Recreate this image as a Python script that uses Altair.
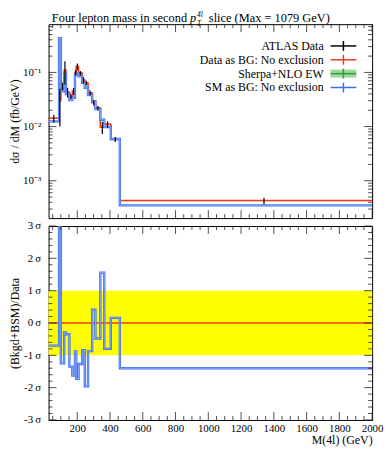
import altair as alt
import pandas as pd

# ---------------- data ----------------
edges = [25, 89, 100, 120, 131, 152, 170, 186, 194, 208, 230, 246, 266, 291, 311, 341, 365, 405, 460, 2000]
data_vals = [0.0142, 0.030, 0.056, 0.110, 0.043, 0.036, 0.045, 0.100, 0.128, 0.097, 0.072,
             0.064, 0.042, 0.0277, 0.022, 0.0097, 0.011, 0.0058, 0.00043]
data_errs = [0.0024, 0.020, 0.0088, 0.050, 0.0086, 0.0037, 0.0067, 0.011, 0.018, 0.0094, 0.0095,
             0.0061, 0.0046, 0.0032, 0.0021, 0.0024, 0.0015, 0.0006, 0.000057]
data_x = [57, 94, 110, 125, 141, 161, 178, 190, 201, 219, 238, 256, 278, 301, 326, 353, 385, 432, 1340]
sm_vals = [0.0125, 0.43, 0.045, 0.095, 0.040, 0.031, 0.034, 0.090, 0.097, 0.085, 0.064,
           0.052, 0.038, 0.029, 0.021, 0.0134, 0.0098, 0.0059, 0.00035]
ratio_vals = [-0.70, 6.0, -1.25, -0.29, -0.35, -1.35, -1.63, -0.88, -1.73, -1.27, -0.84,
              -1.96, -0.87, 0.41, -0.48, 1.56, -0.80, 0.16, -1.40]

x_major = list(range(200, 2001, 200))
x_minor = [v for v in range(50, 2000, 50) if v % 200 != 0]
ytop_major = [1e-1, 1e-2, 1e-3]
ytop_minor = [k * 10.0 ** e for e in (-4, -3, -2, -1) for k in range(2, 10)
              if 2.04e-4 <= k * 10.0 ** e <= 0.778]
ybot_major = [-3, -2, -1, 0, 1, 2, 3]
ybot_minor = [round(i * 0.2, 1) for i in range(-14, 15) if i % 5 != 0]

legend_labels = ["ATLAS Data", "Data as BG: No exclusion", "Sherpa+NLO EW", "SM as BG: No exclusion"]

# ---------------- styling ----------------
FONT = "Liberation Serif"
W, H1, H2 = 327, 196, 196
RED = "#ee3a1c"
BLUE = "#3d6ef0"
BLUE_LIGHT = "#a8bff7"
GREEN = "#2f9e2f"
GREEN_BAND = "#9fd89f"

xs = alt.Scale(domain=[25, 2000], nice=False, zero=False)
ys_top = alt.Scale(type="log", domain=[2.04e-4, 0.778], nice=False)
ys_bot = alt.Scale(domain=[-3, 3], nice=False, zero=False)

axis_top = alt.Axis(values=ytop_major, ticks=False, domain=False, grid=False,
                    labelExpr="datum.value > 0.05 ? '10⁻¹' : (datum.value > 0.005 ? '10⁻²' : '10⁻³')",
                    labelPadding=8, labelFontSize=11, minExtent=25, maxExtent=25,
                    title="dσ / dM (fb/GeV)", titlePadding=2, titleFontSize=12)
axis_bot = alt.Axis(values=ybot_major, ticks=False, domain=False, grid=False,
                    labelExpr="datum.value + '\u2009σ'", labelPadding=8, labelFontSize=11,
                    minExtent=25, maxExtent=25,
                    title="(Bkgd+BSM)/Data", titlePadding=2, titleFontSize=12)
axis_x = alt.Axis(values=x_major, ticks=False, domain=False, grid=False, labelPadding=3,
                  labelFontSize=11, format="d", title="M(4l) (GeV)", titleAnchor="end",
                  titlePadding=1, titleFontSize=12, labelFlush=False)


def YT(f):
    return alt.Y(f, scale=ys_top, axis=axis_top)


def YB(f):
    return alt.Y(f, scale=ys_bot, axis=axis_bot)


bins = pd.DataFrame({"lo": edges[:-1], "hi": edges[1:], "data": data_vals, "err": data_errs,
                     "xd": data_x, "sm": sm_vals, "ratio": ratio_vals})
bins["dlo"] = bins["data"] - bins["err"]
bins["dhi"] = bins["data"] + bins["err"]
steps = pd.DataFrame({"x": edges, "data": data_vals + [data_vals[-1]],
                      "sm": sm_vals + [sm_vals[-1]], "ratio": ratio_vals + [ratio_vals[-1]]})


def tick_layers(xaxis, yenc_fn, ymaj, ymin, H):
    layers = []
    for vals, L in ((x_major, 8), (x_minor, 4)):
        d = pd.DataFrame({"v": vals})
        X = alt.X("v:Q", scale=xs, axis=xaxis)
        layers.append(alt.Chart(d).mark_rule(color="#222", strokeWidth=0.8).encode(
            x=X, y=alt.value(0), y2=alt.value(L)))
        layers.append(alt.Chart(d).mark_rule(color="#222", strokeWidth=0.8).encode(
            x=X, y=alt.value(H), y2=alt.value(H - L)))
    for vals, L in ((ymaj, 8), (ymin, 4)):
        d = pd.DataFrame({"v": vals})
        layers.append(alt.Chart(d).mark_rule(color="#222", strokeWidth=0.8).encode(
            y=yenc_fn("v:Q"), x=alt.value(0), x2=alt.value(L)))
        layers.append(alt.Chart(d).mark_rule(color="#222", strokeWidth=0.8).encode(
            y=yenc_fn("v:Q"), x=alt.value(W), x2=alt.value(W - L)))
    return layers


one = pd.DataFrame({"a": [0]})

# ---------------- top panel ----------------
XN = lambda f: alt.X(f, scale=xs, axis=None)
hbar = alt.Chart(bins).mark_rule(color="black", strokeWidth=1).encode(
    x=XN("lo:Q"), x2="hi:Q", y=YT("data:Q"))
red_step = alt.Chart(steps).mark_line(color=RED, strokeWidth=1.6, interpolate="step-after").encode(
    x=XN("x:Q"), y=YT("data:Q"))
blue_step = alt.Chart(steps).mark_line(color=BLUE, strokeWidth=2.4, interpolate="step-after").encode(
    x=XN("x:Q"), y=YT("sm:Q"))
blue_core = alt.Chart(steps).mark_line(color=BLUE_LIGHT, strokeWidth=0.7, interpolate="step-after").encode(
    x=XN("x:Q"), y=YT("sm:Q"))
vbar = alt.Chart(bins).mark_rule(color="black", strokeWidth=1.2).encode(
    x=XN("xd:Q"), y=YT("dlo:Q"), y2="dhi:Q")

legend_layers = []
rows_y = [22, 36, 50, 64]
leg_colors = ["black", RED, GREEN, BLUE]
for lab, yy, col in zip(legend_labels, rows_y, leg_colors):
    legend_layers.append(alt.Chart(one).mark_text(align="right", baseline="middle", font=FONT,
                                                  fontSize=12, color="black").encode(
        x=alt.value(278), y=alt.value(yy), text=alt.value(lab)))
    if col == GREEN:
        legend_layers.append(alt.Chart(one).mark_rect(color=GREEN_BAND).encode(
            x=alt.value(285), x2=alt.value(311), y=alt.value(yy - 4), y2=alt.value(yy + 4)))
    legend_layers.append(alt.Chart(one).mark_rule(color=col, strokeWidth=1.5).encode(
        x=alt.value(285), x2=alt.value(311), y=alt.value(yy)))
    legend_layers.append(alt.Chart(one).mark_rule(color=col, strokeWidth=1.5).encode(
        x=alt.value(298), y=alt.value(yy - 5), y2=alt.value(yy + 5)))

title_layers = [
    alt.Chart(one).mark_text(align="right", baseline="alphabetic", font=FONT, fontSize=12.5).encode(
        x=alt.value(140), y=alt.value(-2.5), text=alt.value("Four lepton mass in second")),
    alt.Chart(one).mark_text(align="left", baseline="alphabetic", font=FONT, fontSize=12.5,
                             fontStyle="italic").encode(
        x=alt.value(143), y=alt.value(-2.5), text=alt.value("p")),
    alt.Chart(one).mark_text(align="left", baseline="alphabetic", font=FONT, fontSize=7.5,
                             fontStyle="italic").encode(
        x=alt.value(150), y=alt.value(-7.5), text=alt.value("4l")),
    alt.Chart(one).mark_text(align="left", baseline="alphabetic", font=FONT, fontSize=7.5,
                             fontStyle="italic").encode(
        x=alt.value(150), y=alt.value(1.5), text=alt.value("T")),
    alt.Chart(one).mark_text(align="left", baseline="alphabetic", font=FONT, fontSize=12.5).encode(
        x=alt.value(162), y=alt.value(-2.5), text=alt.value("slice (Max = 1079 GeV)")),
]

top = alt.layer(
    hbar, red_step, blue_step, blue_core, vbar,
    *tick_layers(None, YT, ytop_major, ytop_minor, H1),
    *legend_layers, *title_layers
).properties(width=W, height=H1)

# ---------------- bottom panel ----------------
XB = lambda f: alt.X(f, scale=xs, axis=axis_x)
band = alt.Chart(pd.DataFrame({"lo": [-1], "hi": [1]})).mark_rect(color="#ffff00").encode(
    x=alt.value(0), x2=alt.value(W), y=YB("lo:Q"), y2="hi:Q")
zero = alt.Chart(pd.DataFrame({"z": [0]})).mark_rule(color=RED, strokeWidth=1.3).encode(
    y=YB("z:Q"), x=alt.value(0), x2=alt.value(W))
ratio_step = alt.Chart(steps).mark_line(color=BLUE, strokeWidth=2.4, interpolate="step-after",
                                        clip=True).encode(
    x=XB("x:Q"), y=YB("ratio:Q"))
ratio_core = alt.Chart(steps).mark_line(color=BLUE_LIGHT, strokeWidth=0.7, interpolate="step-after",
                                        clip=True).encode(
    x=XB("x:Q"), y=YB("ratio:Q"))

bottom = alt.layer(
    band, zero, ratio_step, ratio_core,
    *tick_layers(axis_x, YB, ybot_major, ybot_minor, H2)
).properties(width=W, height=H2)

chart = alt.vconcat(top, bottom, spacing=0).properties(
    padding={"left": 0, "top": 0, "right": 0, "bottom": 0}
).configure_view(stroke="black", strokeWidth=1).configure_axis(
    labelFont=FONT, titleFont=FONT, labelColor="black", titleColor="black",
    titleFontWeight="normal"
)

chart.save("out.html", embed_options={"renderer": "svg", "actions": False})
